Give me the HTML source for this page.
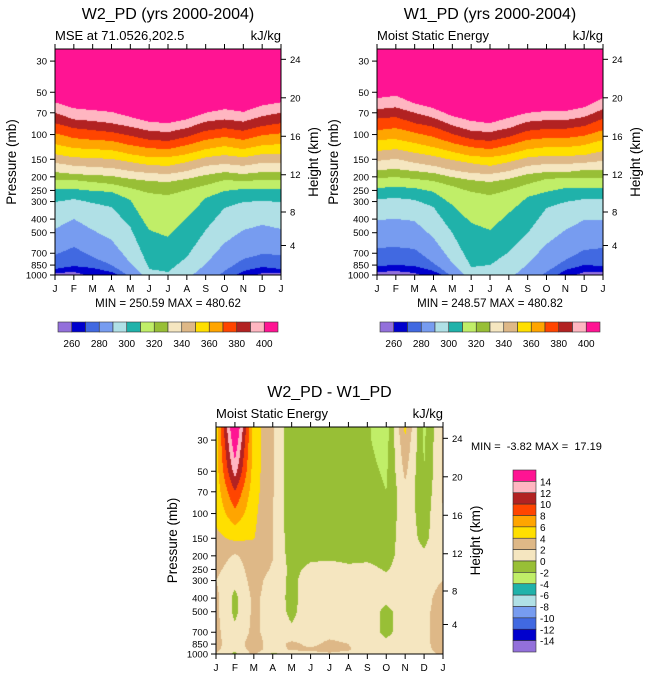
<!DOCTYPE html>
<html><head><meta charset="utf-8"><style>
html,body{margin:0;padding:0;background:#fff;}
#wrap{position:relative;width:648px;height:678px;overflow:hidden;font-family:"Liberation Sans",Arial,sans-serif;}
canvas{position:absolute;}
svg{position:absolute;left:0;top:0;}
text{font-family:"Liberation Sans",Arial,sans-serif;fill:#000;white-space:pre;}
</style></head><body>
<div id="wrap">
<canvas id="c1" width="226" height="226" style="left:55px;top:49px"></canvas>
<canvas id="c2" width="226" height="226" style="left:377px;top:49px"></canvas>
<canvas id="c3" width="227" height="227" style="left:216px;top:427px"></canvas>
<svg id="ov" width="648" height="678"></svg>
</div>
<script>
const months=['J','F','M','A','M','J','J','A','S','O','N','D','J'];
const pressureTicks=[30,50,70,100,150,200,250,300,400,500,700,850,1000];
const heightTicks=[4,8,12,16,20,24];
const mseLevels=[260,270,280,290,300,310,320,330,340,350,360,370,380,390,400];
const diffLevels=[-14,-12,-10,-8,-6,-4,-2,0,2,4,6,8,10,12,14];
const colors=['#9370db','#0000cd','#4169e1','#779cf0','#b0e0e6','#20b2aa','#c0ee68','#98bf36','#f5e6c0','#deb887','#ffdf00','#ffa500','#ff4500','#b22222','#ffb6c1','#ff1493'];
// W2 pressure (mb) where each MSE level is crossed, per month (J..J)
const w2Bounds=[
[968,952,1033,1122,1279,1388,1388,1388,1388,1279,1068,968,968],
[906,863,892,952,1085,1322,1322,1322,1279,1122,937,877,906],
[720,632,745,849,1033,1279,1279,1279,1178,937,769,709,720],
[470,399,478,563,822,1122,1159,1085,835,592,478,440,470],
[302,288,307,328,455,906,952,745,478,333,302,297,302],
[244,244,252,256,292,478,536,393,283,252,244,244,244],
[211,211,218,225,240,261,270,248,229,211,214,211,211],
[185,191,194,197,207,214,218,207,194,185,191,185,185],
[159,167,170,173,182,188,191,182,167,162,167,159,159],
[138,145,147,149,157,165,167,157,145,140,145,138,138],
[117,125,127,129,138,145,145,138,127,121,127,119,117],
[98,106,109,111,119,125,127,119,109,104,109,101,98],
[83,90,93,96,102,109,111,104,94,90,94,87,83],
[70,78,80,83,88,94,96,90,81,78,81,74,70],
[59,65,67,69,75,81,83,78,70,66,69,62,59]];
const w1Bounds=[
[952,937,968,1085,1279,1388,1388,1388,1388,1279,1068,952,952],
[863,849,863,937,1085,1322,1322,1322,1279,1122,921,849,863],
[642,632,653,822,1033,1279,1279,1279,1178,952,782,664,642],
[406,399,413,545,822,1103,1140,1085,835,602,478,406,406],
[288,283,292,328,502,877,849,686,502,333,302,288,288],
[240,236,240,256,317,426,478,362,278,256,240,240,240],
[204,201,207,214,233,256,270,248,225,207,204,204,204],
[179,176,182,188,201,211,218,207,191,185,185,179,179],
[154,149,159,167,179,188,191,182,167,162,162,159,154],
[131,127,135,142,152,160,167,157,145,142,142,140,131],
[109,108,115,123,133,142,145,138,127,123,123,119,109],
[93,90,97,104,115,123,127,119,109,106,106,102,93],
[77,75,83,88,99,108,111,104,94,91,91,87,77],
[66,64,70,76,86,94,96,90,81,79,79,75,66],
[55,53,60,65,74,80,83,76,70,68,68,64,55]];
// difference field at pressure levels
const diffPressures=[1000,925,850,700,500,400,300,250,200,150,100,70,50,30,25];
const diffJan=[2,2.5,2.5,2.5,2.5,2.5,2,2.5,3,3.5,4.5,4.8,5,5,5];
const diffFeb=[-0.5,0.5,1,0.5,-0.5,-0.5,0.5,1,1.8,4.5,7.5,10,13,16,17];
const diffMar=[2.5,3,3,2.5,2.5,2.5,2.8,3,3,4.1,4.5,4.8,5,5,5];
const diffApr=[-0.5,1,1,1,1,1,1.2,1.8,2.1,2,2,2.2,2.2,2.2,2.2];
const diffMay=[1,2.3,2.5,0.3,-0.4,-0.5,-0.5,-0.6,-1,-1.2,-1.3,-1.5,-1.5,-1.5,-1.5];
const diffJun=[1.5,2.3,1.5,1,1,1,1,0.5,-0.5,-1,-1,-1.2,-1.2,-1.2,-1.2];
const diffJul=[1.8,2.5,2.5,1.2,1,1,1,0.8,-0.5,-1,-1,-1,-1,-1,-1];
const diffAug=[1.5,2.2,2,1,1,1,1,0.3,-0.5,-1,-1,-1,-1,-1,-1];
const diffSep=[1,1,1,1,1,1,1,0.5,-0.5,-1,-1,-1.2,-1.5,-1.8,-1.8];
const diffOct=[0.3,0.5,0.5,-0.5,-0.5,0.5,0.5,-0.2,-0.8,-1,-1.5,-2,-2.3,-2.8,-3];
const diffNov=[0.5,1,1,1,1,1,1,1,1,1,1.2,1.5,2.5,3.8,4.5];
const diffDec=[1,1.3,1.5,1.5,1.5,1.2,1,0.8,0.3,-0.5,-1,-1.5,-2,-2.3,-2.5];
const diffJan2=[2.5,3,3,3,3,3,2,1.5,1.5,1.5,2,2.2,2.2,2.3,2.3];
const diffCols=[diffJan,diffFeb,diffMar,diffApr,diffMay,diffJun,diffJul,diffAug,diffSep,diffOct,diffNov,diffDec,diffJan2];

const PX_PER_LN=61;
function pFromFrac(yFromBottom){return 1000*Math.exp(-yFromBottom/PX_PER_LN);}
function yOfP(p,bottom){return bottom-PX_PER_LN*Math.log(1000/p);}
function pOfZ(km){const z=km*1000;return z<=11000?1013.25*Math.pow(1-2.25577e-5*z,5.25588):226.32*Math.exp(-(z-11000)/6341.6);}

function diffAt(col,p){
  const c=diffCols[col];const lp=Math.log(p);
  if(p>=diffPressures[0])return c[0];
  for(let k=0;k<diffPressures.length-1;k++){
    const p0=diffPressures[k],p1=diffPressures[k+1];
    if(p<=p0&&p>=p1){const t=(Math.log(p0)-lp)/(Math.log(p0)-Math.log(p1));return c[k]+(c[k+1]-c[k])*t;}
  }
  return c[c.length-1];
}
function hex(c){return [parseInt(c.substr(1,2),16),parseInt(c.substr(3,2),16),parseInt(c.substr(5,2),16)];}
const rgb=colors.map(hex);
function setPx(img,W,x,y,idx){const c=rgb[idx],o=(y*W+x)*4;img.data[o]=c[0];img.data[o+1]=c[1];img.data[o+2]=c[2];img.data[o+3]=255;}
// MSE: interpolate boundary surfaces (ln p) between months -> straight-edged bands
function fillBounds(id,b){
  const cv=document.getElementById(id),ctx=cv.getContext('2d');
  const W=cv.width,H=cv.height,img=ctx.createImageData(W,H);
  for(let x=0;x<W;x++){
    const m=(x+0.5)/W*12;let i=Math.floor(m);if(i>11)i=11;const f=m-i;
    const lb=b.map(row=>(1-f)*Math.log(row[i])+f*Math.log(row[i+1]));
    for(let y=0;y<H;y++){
      const lp=Math.log(pFromFrac((H-y-0.5)*226/H));
      let idx=0;while(idx<lb.length&&lp<lb[idx])idx++;
      setPx(img,W,x,y,idx);
    }
  }
  ctx.putImageData(img,0,0);
}
function fillGrid(id,fn,levels){
  const cv=document.getElementById(id),ctx=cv.getContext('2d');
  const W=cv.width,H=cv.height,img=ctx.createImageData(W,H);
  for(let x=0;x<W;x++){
    const m=(x+0.5)/W*12;let i=Math.floor(m);if(i>11)i=11;const f=m-i;
    for(let y=0;y<H;y++){
      const p=pFromFrac((H-y-0.5)*226/H);
      const v=(1-f)*fn(i,p)+f*fn(i+1,p);
      let idx=0;while(idx<levels.length&&v>=levels[idx])idx++;
      setPx(img,W,x,y,idx);
    }
  }
  ctx.putImageData(img,0,0);
}
fillBounds('c1',w2Bounds);
fillBounds('c2',w1Bounds);
fillGrid('c3',(i,p)=>diffAt(i,p),diffLevels);

const NS='http://www.w3.org/2000/svg';
const svg=document.getElementById('ov');
function el(tag,attrs,txt){const e=document.createElementNS(NS,tag);for(const k in attrs)e.setAttribute(k,attrs[k]);if(txt!==undefined)e.textContent=txt;svg.appendChild(e);return e;}

function axes(P){
  const x0=P.x,y0=P.y,w=P.w,h=P.h,bot=y0+h;
  const fr=el('rect',{x:x0,y:y0,width:w,height:h,fill:'none',stroke:'#000','stroke-width':1});
  
  
  months.forEach((m,i)=>{
    const x=x0+i*w/12;
    el('line',{x1:x,y1:bot,x2:x,y2:bot+5,stroke:'#000'});
    el('line',{x1:x,y1:y0,x2:x,y2:y0-5,stroke:'#000'});
    const t=el('text',{x:x,y:bot+17,'font-size':10,'text-anchor':'middle'},m);
    
    
  });
  pressureTicks.forEach(p=>{
    const y=yOfP(p,bot);
    el('line',{x1:x0,y1:y,x2:x0-5,y2:y,stroke:'#000'});
    const t=el('text',{x:x0-8,y:y+3.5,'font-size':9.5,'text-anchor':'end'},String(p));
    
    
  });
  heightTicks.forEach(z=>{
    const y=yOfP(pOfZ(z),bot);
    el('line',{x1:x0+w,y1:y,x2:x0+w+5,y2:y,stroke:'#000'});
    const t=el('text',{x:x0+w+9,y:y+3.5,'font-size':9.5},String(z));
    
    
  });
  const yl=el('text',{x:0,y:0,'font-size':13.5,'text-anchor':'middle',transform:`translate(${x0-39},${y0+h/2}) rotate(-90)`},'Pressure (mb)');
  
  
  const yr=el('text',{x:0,y:0,'font-size':13.5,'text-anchor':'middle',transform:`translate(${x0+w+37},${y0+h/2}) rotate(-90)`},'Height (km)');
  
  
  const tt=el('text',{x:x0+w/2,y:y0-30,'font-size':16,'text-anchor':'middle'},P.title);
  
  
  const st=el('text',{x:x0,y:y0-9,'font-size':13},P.sub);
  
  
  const un=el('text',{x:x0+w,y:y0-9,'font-size':13,'text-anchor':'end'},'kJ/kg');
  
  
}
axes({n:'w2',x:55,y:49,w:226,h:226,title:'W2_PD (yrs 2000-2004)',sub:'MSE at 71.0526,202.5'});
axes({n:'w1',x:377,y:49,w:226,h:226,title:'W1_PD (yrs 2000-2004)',sub:'Moist Static Energy'});
axes({n:'diff',x:216,y:427,w:227,h:227,title:'W2_PD - W1_PD',sub:'Moist Static Energy'});

let t1=el('text',{x:168,y:307,'font-size':11.5,'text-anchor':'middle'},'MIN = 250.59 MAX = 480.62');

let t2=el('text',{x:490,y:307,'font-size':11.5,'text-anchor':'middle'},'MIN = 248.57 MAX = 480.82');

let t3=el('text',{x:471,y:450,'font-size':11},'MIN =  -3.82 MAX =  17.19');


function hbar(x0,n){
  const bw=220/16;
  colors.forEach((c,i)=>{
    const r=el('rect',{x:x0+i*bw,y:322,width:bw,height:10,fill:c,stroke:'#333','stroke-width':0.6});
    
    
  });
  mseLevels.forEach((lv,k)=>{
    if(k%2)return;
    const t=el('text',{x:x0+(k+1)*bw,y:347,'font-size':10,'text-anchor':'middle'},String(lv));
    
    
  });
}
hbar(58,'w2');hbar(380,'w1');
(function(){
  const top=470,bh=182/16;
  for(let i=0;i<16;i++){
    const r=el('rect',{x:513,y:top+i*bh,width:23,height:bh,fill:colors[15-i],stroke:'#333','stroke-width':0.6});
    
    
  }
  for(let i=0;i<15;i++){
    const t=el('text',{x:540,y:top+(i+1)*bh+4,'font-size':10},String(diffLevels[14-i]));
    
    
  }
})();
</script>
</body></html>
